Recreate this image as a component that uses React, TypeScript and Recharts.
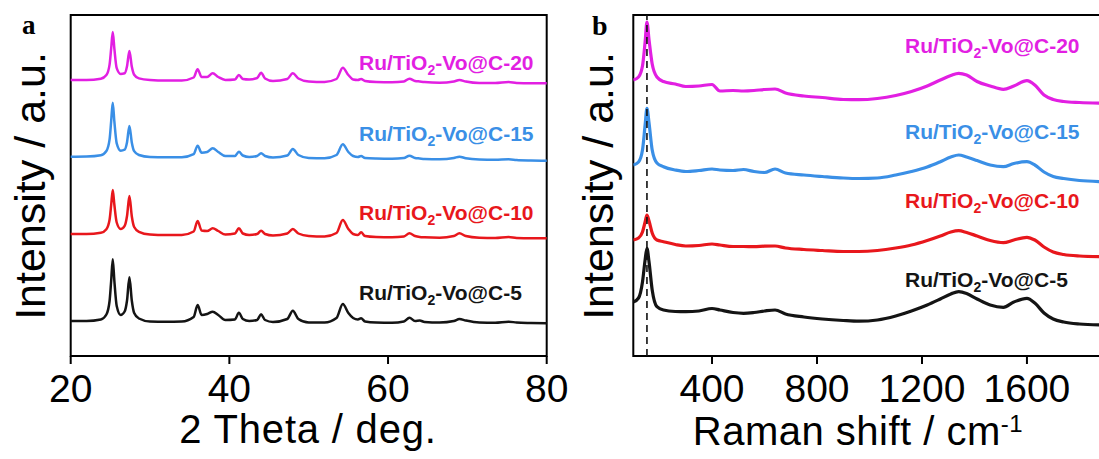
import React from 'react';
import { LineChart, Line, XAxis, YAxis, ReferenceArea, ReferenceLine } from 'recharts';

// XRD: 2theta grid and intensities above each trace's own baseline
const TWO_THETA = [
  20, 22, 23.8, 24.5, 24.9, 25.1, 25.3, 25.5, 25.8, 26.3, 26.8, 27.1, 27.4, 27.7, 28.0, 28.6,
  30, 32, 34, 35.5, 36.0, 36.5, 37.2, 37.9, 38.6, 39.5, 40.7, 41.2, 41.7, 42.5, 43.5, 44.0,
  44.5, 45.5, 47.3, 48.0, 48.7, 50, 52, 53.5, 54.3, 55.0, 55.6, 56.2, 56.6, 57.1, 58.5, 60.5,
  62.0, 62.7, 63.4, 64.0, 64.6, 66.5, 68.3, 69.0, 69.8, 71.5, 73.5, 75.2, 76.2, 78, 80
];
const XRD_C5 = [
  0, 0, 1.5, 6.5, 20, 40, 61.7, 40.5, 15, 6, 9.5, 20.5, 43.7, 20.5, 8, 2.5,
  -0.5, -0.7, -0.5, 4, 16, 6, 7, 9.3, 6, 1, 1.5, 8.3, 2, 0, 1, 6.7,
  1, -1, 2, 10.3, 2, -1.5, -1.5, 3, 17, 8, 3, 1.5, 2.7, -0.5, -1.5, -1.7,
  -0.5, 3.3, 0, 0.5, -1, -1.5, 0, 2, 0.5, -1.5, -1.7, -0.7, -1.5, -2, -2.3
];
const XRD_C10 = [
  0, 0, 1.2, 4.8, 14.2, 28.8, 44, 29.5, 11.5, 5, 8.2, 18, 38, 17.8, 7, 2.2,
  -0.5, -1, -1, 2.5, 13, 3.5, 3, 5.7, 3, -0.5, 0.5, 5.7, 0.5, -1, 0, 3.3,
  0, -1.5, 0.5, 5, 0.5, -2, -2.5, 1, 14, 5, 0, -1, 1.7, -2, -3, -3.3,
  -2.5, 0.7, -2, -3, -3.3, -3.7, -2, 0.7, -2, -3.7, -4, -3, -4, -4.3, -4.3
];
const XRD_C15 = [
  0, 0.2, 1.5, 5.7, 17.3, 35.3, 54, 35.5, 13.3, 6, 7, 14.5, 30.7, 14.3, 5.5, 1.7,
  -0.3, -0.6, -0.6, 2.5, 11, 4, 4.7, 8.4, 4.7, 0.7, 0.7, 5, 1.2, -0.3, 0.7, 3.4,
  0.7, -0.8, 1.2, 7.7, 1.7, -1.3, -1.6, 1.7, 12.4, 4.7, 0.7, -0.3, 0.7, -1.3, -1.8, -2,
  -1.3, 1, -1.3, -1.8, -2.3, -2.6, -1.3, 0, -1.6, -2.8, -3, -2.6, -3.3, -3.8, -4
];
const XRD_C20 = [
  0, 0, 1.3, 5, 15.4, 31.4, 48, 31.6, 11.8, 6, 6.7, 13.7, 29, 13.5, 5.3, 1.6,
  0, -0.5, -0.5, 2.5, 10.7, 3, 3, 6.7, 3, 0, 0.5, 5, 1, 0.5, 2, 7.3,
  1.5, -1, 1, 6.7, 1.5, -1.5, -2, 1, 12.3, 5, 0.5, 0, 1, -1, -2, -2.3,
  -1.5, 1.3, -1, -1.5, -2, -2.7, -1.5, 0, -1.5, -3, -3, -2, -3, -3.3, -3.3
];
const XRD_STACK = [35, 122, 199.3, 276];

// Raman: shift grid and stacked intensities
const RAMAN_SHIFT = [
  100, 120, 135, 145, 152, 160, 172, 190, 215, 260, 300, 350, 400, 430, 480, 520, 560, 600,
  640, 680, 750, 820, 900, 960, 1030, 1100, 1160, 1220, 1270, 1310, 1340, 1370, 1410, 1460,
  1510, 1550, 1600, 1630, 1665, 1700, 1740, 1800, 1886
];
const RAMAN_C5 = [
  54, 58, 74, 96, 107.7, 94, 66, 49.3, 46, 44.5, 44.3, 45, 47.5, 46, 43.5, 42.7, 43.5, 45,
  46, 42, 39, 37, 35.5, 34.8, 36, 40, 45, 51, 57, 62, 64.3, 62.5, 57, 51,
  48.7, 54, 57.7, 53, 43, 37, 34, 32, 31
];
const RAMAN_C10 = [
  116, 118, 124, 134, 141, 135, 123, 116, 114.3, 111.5, 110, 110.5, 112, 111, 109.5, 109.5, 109.3, 109.8,
  110, 108, 106.5, 105.5, 104.5, 104.5, 105.5, 108, 111, 115.5, 120, 124, 125.3, 123.5, 120, 115.5,
  113.3, 116, 118.7, 116, 109, 104, 101.5, 100, 99.3
];
const RAMAN_C15 = [
  191, 194, 206, 231, 247.7, 233, 206, 193, 189.3, 186, 184.5, 185.5, 187, 186, 185.5, 186.5, 184.5, 183.5,
  187, 183, 181, 179.5, 178, 177.5, 178, 181, 184.5, 189, 194.3, 199, 201, 199, 195.5, 191,
  189.3, 192.5, 194.3, 191, 184, 179.5, 177.5, 175.5, 174.3
];
const RAMAN_C20 = [
  276, 279, 290, 314, 334, 316, 292, 279, 274.5, 272, 269.5, 270, 271.5, 265, 265.5, 265, 265.5, 266.5,
  267, 263, 260, 258.5, 256.5, 256.3, 257.5, 260.5, 264.5, 270, 276, 280.5, 282.7, 281, 274.5, 270,
  266.7, 270, 275.3, 271, 261, 256.5, 254.5, 253.5, 252.7
];

const SAMPLES = ['5', '10', '15', '20'];
const COLORS = ['#141414', '#e8171c', '#3a8fe6', '#e21fe2'];
const XRD_TICKS = [20, 40, 60, 80];
const RAMAN_TICKS = [400, 800, 1200, 1600];
const RAMAN_REF = 152;

const SANS = "'Liberation Sans', Arial, sans-serif";
const SERIF = "'Liberation Serif', 'Times New Roman', serif";

const xrdSeries = [XRD_C5, XRD_C10, XRD_C15, XRD_C20];
const ramanSeries = [RAMAN_C5, RAMAN_C10, RAMAN_C15, RAMAN_C20];

const xrdData = TWO_THETA.map((t, i) => {
  const row: Record<string, number> = { x: t };
  xrdSeries.forEach((s, k) => { row['s' + k] = s[i] + XRD_STACK[k]; });
  return row;
});

const ramanData = RAMAN_SHIFT.map((w, i) => {
  const row: Record<string, number> = { x: w };
  ramanSeries.forEach((s, k) => { row['s' + k] = s[i]; });
  return row;
});

const tickText = (props: any) => (
  <text x={props.x} y={402} textAnchor="middle" fontFamily={SANS} fontSize={39} fill="#000">
    {props.payload.value}
  </text>
);

function SampleLabel ({ x, y, k }: { x: number; y: number; k: number }) {
  return (
    <text x={x} y={y} fill={COLORS[k]} fontFamily={SANS} fontWeight="bold" fontSize={21}>
      Ru/TiO<tspan fontSize={14} dy={5}>2</tspan><tspan dy={-5}>-Vo@C-{SAMPLES[k]}</tspan>
    </text>
  );
}

const XRD_LABEL_Y = [300, 220, 140.5, 70];
const RAMAN_LABEL_Y = [287, 208, 139, 53];

export default function App () {
  return (
    <div style={{ position: 'absolute', left: 0, top: 0, width: 1099, height: 459, overflow: 'hidden', background: '#fff' }}>
      <div style={{ position: 'absolute', left: 0, top: 0 }}>
        <LineChart width={600} height={459} data={xrdData} margin={{ top: 15, right: 53.3, bottom: 0, left: 70.7 }}>
          <XAxis
            dataKey="x"
            type="number"
            domain={[20, 80]}
            ticks={XRD_TICKS}
            height={103}
            axisLine={false}
            tickSize={8}
            tickLine={{ stroke: '#000', strokeWidth: 2 }}
            tick={tickText}
          />
          <YAxis hide type="number" domain={[0, 341]} />
          <ReferenceArea x1={20} x2={80} y1={0} y2={341} fill="none" fillOpacity={0} stroke="#000" strokeWidth={2} ifOverflow="visible" />
          {SAMPLES.map((s, k) => (
            <Line key={s} dataKey={'s' + k} type="monotone" stroke={COLORS[k]} strokeWidth={2.5} dot={false} isAnimationActive={false} />
          ))}
        </LineChart>
      </div>
      <div style={{ position: 'absolute', left: 560, top: 0 }}>
        <LineChart width={545} height={459} data={ramanData} margin={{ top: 15, right: 3, bottom: 0, left: 73.3 }}>
          <XAxis
            dataKey="x"
            type="number"
            domain={[100, 1886]}
            ticks={RAMAN_TICKS}
            height={103}
            axisLine={false}
            tickSize={8}
            tickLine={{ stroke: '#000', strokeWidth: 2 }}
            tick={tickText}
            allowDataOverflow
          />
          <YAxis hide type="number" domain={[0, 341]} />
          <ReferenceArea x1={100} x2={1886} y1={0} y2={341} fill="none" fillOpacity={0} stroke="#000" strokeWidth={2} ifOverflow="visible" />
          {SAMPLES.map((s, k) => (
            <Line key={s} dataKey={'s' + k} type="monotone" stroke={COLORS[k]} strokeWidth={3.2} dot={false} isAnimationActive={false} />
          ))}
          <ReferenceLine x={RAMAN_REF} stroke="#111" strokeWidth={1.6} strokeDasharray="7 5" />
        </LineChart>
      </div>
      <svg width={1099} height={459} style={{ position: 'absolute', left: 0, top: 0, pointerEvents: 'none' }}>
        <text x={22} y={34} fontFamily={SERIF} fontWeight="bold" fontSize={27}>a</text>
        <text x={592} y={35} fontFamily={SERIF} fontWeight="bold" fontSize={28}>b</text>
        <text transform="translate(45,186) rotate(-90)" textAnchor="middle" fontFamily={SANS} fontSize={43}>Intensity / a.u.</text>
        <text transform="translate(613,186) rotate(-90)" textAnchor="middle" fontFamily={SANS} fontSize={43}>Intensity / a.u.</text>
        <text x={308} y={443} textAnchor="middle" fontFamily={SANS} fontSize={40} letterSpacing={0.8}>2 Theta / deg.</text>
        <text x={858} y={445} textAnchor="middle" fontFamily={SANS} fontSize={40} letterSpacing={0.5}>
          Raman shift / cm<tspan fontSize={24} dy={-13}>-1</tspan>
        </text>
        {SAMPLES.map((s, k) => <SampleLabel key={'a' + s} x={359} y={XRD_LABEL_Y[k]} k={k} />)}
        {SAMPLES.map((s, k) => <SampleLabel key={'b' + s} x={905} y={RAMAN_LABEL_Y[k]} k={k} />)}
      </svg>
    </div>
  );
}
